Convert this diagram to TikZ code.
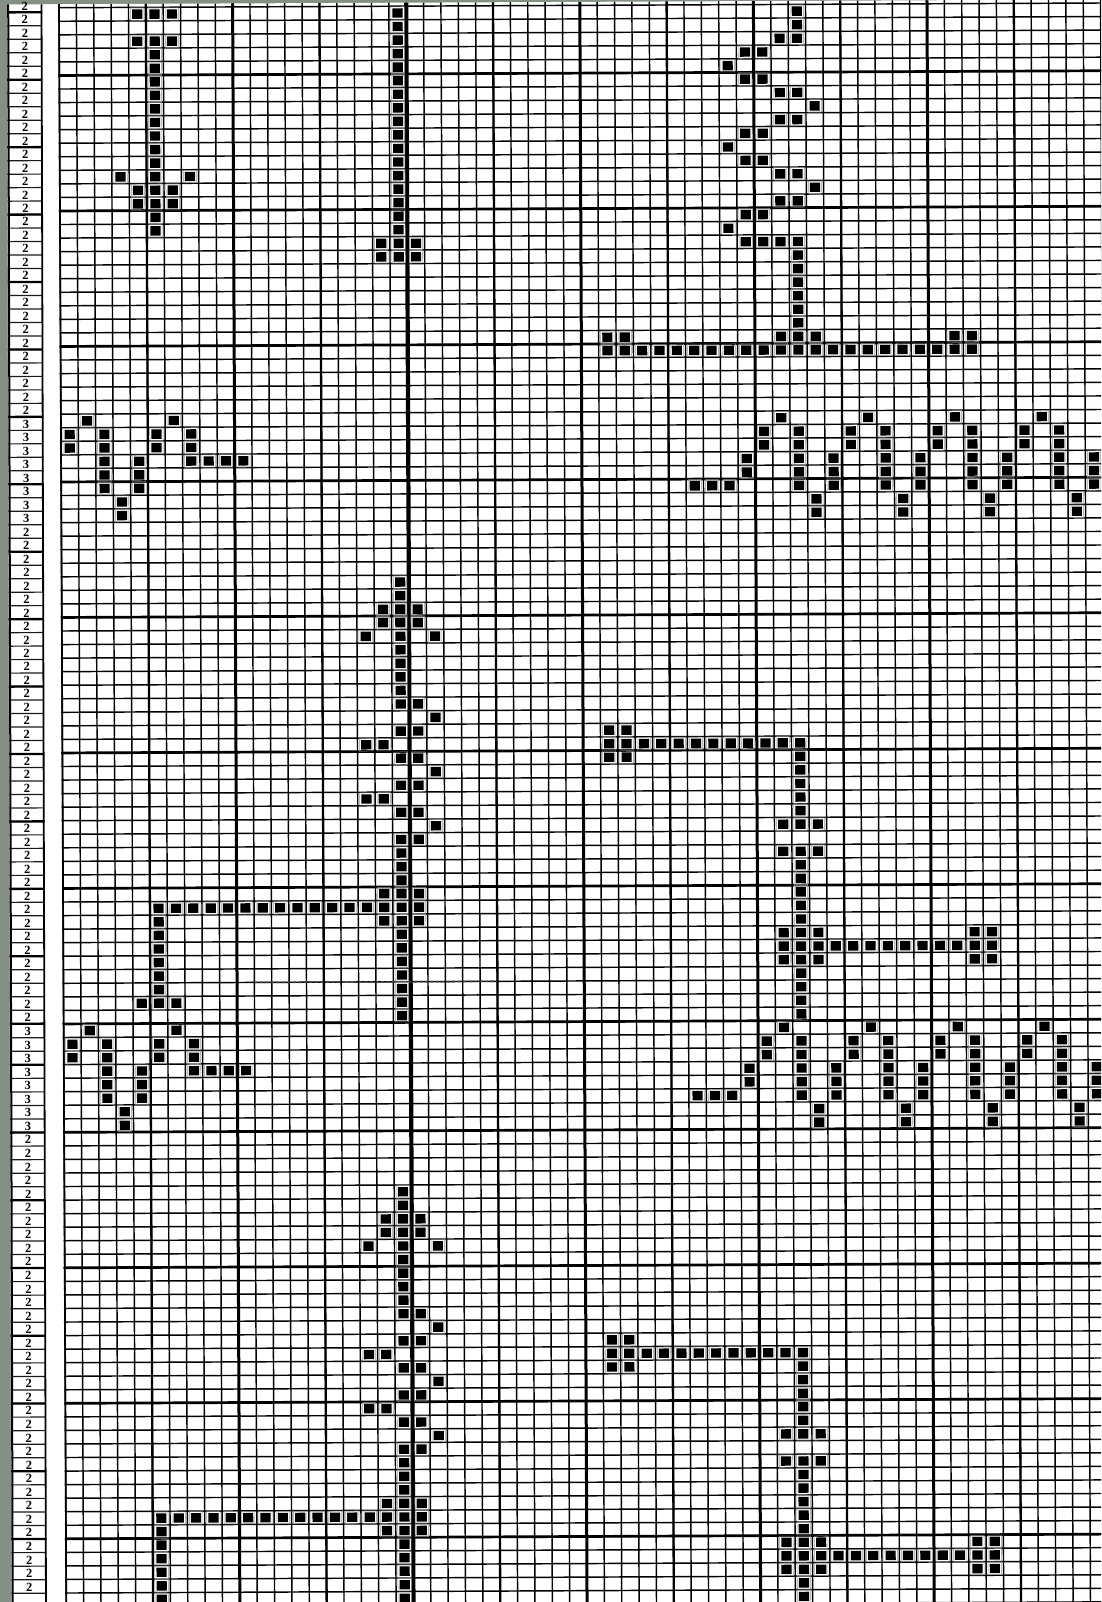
\documentclass[tikz,border=0pt]{standalone}
\usepackage{fontspec}
\setmainfont{Liberation Serif}
\definecolor{scanbg}{RGB}{132,144,132}
\tikzset{
  thinl/.style={line width=1.45pt,black},
  fivel/.style={line width=2.3pt,black},
  tenl/.style={line width=3pt,black},
  midl/.style={line width=4.2pt,black},
  rowl/.style={line width=2.7pt,black},
  labthin/.style={line width=1.2pt,black!90},
  labthick/.style={line width=2.3pt,black},
  labtxt/.style={font=\bfseries\fontsize{12.5}{12.5}\selectfont,inner sep=0pt},
}
\newcommand\stitch[2]{%
  \fill[black] ({59+17.36*(#1+0.5)-5.1},{8+13.55*(#2+0.5)-4.7}) rectangle ++(10.2,9.4);%
  \draw[black!40,line width=0.5pt] ({59+17.36*(#1+0.5)-6.7},{8+13.55*(#2+0.5)-6.2}) rectangle ++(13.4,12.4);}
\newcommand\zzleft[1]{%
  \foreach \c in {1,6} {\stitch{\c}{#1}}%
  \foreach \c in {0,2,5,7} {\stitch{\c}{#1+1}\stitch{\c}{#1+2}}%
  \foreach \c in {2,4,7,8,9,10} {\stitch{\c}{#1+3}}%
  \foreach \c in {2,4} {\stitch{\c}{#1+4}\stitch{\c}{#1+5}}%
  \stitch{3}{#1+6}\stitch{3}{#1+7}}
\newcommand\zzright[1]{%
  \foreach \c in {41,46,51,56} {\stitch{\c}{#1}}%
  \foreach \c in {40,42,45,47,50,52,55,57} {\stitch{\c}{#1+1}\stitch{\c}{#1+2}}%
  \foreach \c in {42,44,47,49,52,54,57,59} {\stitch{\c}{#1+3}\stitch{\c}{#1+4}\stitch{\c}{#1+5}}%
  \stitch{39}{#1+3}\stitch{39}{#1+4}%
  \foreach \c in {36,37,38} {\stitch{\c}{#1+5}}%
  \foreach \c in {43,48,53,58} {\stitch{\c}{#1+6}\stitch{\c}{#1+7}}}
\newcommand\arrowmotif[1]{%
  \stitch{19}{#1}\stitch{19}{#1+1}%
  \foreach \c in {18,19,20} {\stitch{\c}{#1+2}\stitch{\c}{#1+3}}%
  \foreach \c in {17,19,21} {\stitch{\c}{#1+4}}%
  \foreach \k in {5,...,8} {\stitch{19}{#1+\k}}%
  \foreach \k in {9,11,13,15,17,19} {\stitch{19}{#1+\k}\stitch{20}{#1+\k}}%
  \foreach \k in {10,14,18} {\stitch{21}{#1+\k}}%
  \foreach \k in {12,16} {\stitch{17}{#1+\k}\stitch{18}{#1+\k}}%
  \foreach \k in {20,21,22} {\stitch{19}{#1+\k}}%
  \foreach \c in {18,19,20} {\stitch{\c}{#1+23}}%
  \foreach \c in {5,...,20} {\stitch{\c}{#1+24}}%
  \foreach \c in {5,18,19,20} {\stitch{\c}{#1+25}}%
  \foreach \k in {26,...,30} {\stitch{5}{#1+\k}}%
  \foreach \c in {4,5,6} {\stitch{\c}{#1+31}}%
  \foreach \k in {26,...,32} {\stitch{19}{#1+\k}}}
\newcommand\fmotif[1]{%
  \foreach \c in {31,32} {\stitch{\c}{#1}\stitch{\c}{#1+2}}%
  \foreach \c in {31,...,42} {\stitch{\c}{#1+1}}%
  \foreach \k in {2,...,6} {\stitch{42}{#1+\k}}%
  \foreach \c in {41,42,43} {\stitch{\c}{#1+7}\stitch{\c}{#1+9}\stitch{\c}{#1+15}\stitch{\c}{#1+17}}%
  \foreach \k in {10,...,14} {\stitch{42}{#1+\k}}%
  \foreach \c in {41,...,53} {\stitch{\c}{#1+16}}%
  \foreach \c in {52,53} {\stitch{\c}{#1+15}\stitch{\c}{#1+17}}%
  \foreach \k in {18,...,21} {\stitch{42}{#1+\k}}}
\begin{document}
\begin{tikzpicture}[x=1pt,y=-1pt]
\useasboundingbox (0,0) rectangle (1101,1602);
\clip (0,0) rectangle (1101,1602);
\fill[scanbg] (0,0) rectangle (1101,1602);
% label strip
\begin{scope}[rotate around={0.16:(0,0)}]
  \fill[white] (7,4.5) rectangle (60,1650);
  \foreach \r in {0,...,75} {\draw[labthin] (7,{12.4+13.485*\r}) -- (42,{12.4+13.485*\r});}
  \foreach \r in {76,...,118} {\draw[labthin] (7,{8+13.55*\r}) -- (42,{8+13.55*\r});}
  \foreach \r in {0,5,...,75} {\draw[labthick] (7,{12.4+13.485*\r}) -- (42,{12.4+13.485*\r});}
  \foreach \r in {78,83,...,118} {\draw[labthick] (7,{8+13.55*\r}) -- (42,{8+13.55*\r});}
  \draw[line width=2pt] (8.2,4.5) -- (8.2,1650);
  \draw[line width=1.8pt] (41.5,4.5) -- (41.5,1650);
  \foreach \r in {-1,...,29} {\node[labtxt,name=La\r] at (24.8,{12.4+13.485*(\r+0.5)+0.5}) {2};}
  \foreach \r in {30,...,37} {\node[labtxt,name=Lb\r] at (24.8,{12.4+13.485*(\r+0.5)+0.5}) {3};}
  \foreach \r in {38,...,74} {\node[labtxt,name=Lc\r] at (24.8,{12.4+13.485*(\r+0.5)+0.5}) {2};}
  \foreach \r in {75,...,82} {\node[labtxt,name=Ld\r] at (24.8,{8+13.55*(\r+0.5)+0.5}) {3};}
  \foreach \r in {83,...,116} {\node[labtxt,name=Le\r] at (24.8,{8+13.55*(\r+0.5)+0.5}) {2};}
\end{scope}
% chart
\begin{scope}[rotate around={0.26:(0,0)}]
  \fill[white] (44,4.5) rectangle (1130,1650);
  \begin{scope}
    \clip (58,4.5) rectangle (1130,1650);
    \foreach \k in {0,...,60} {\draw[thinl] ({59+17.36*\k},0) -- ++(0,1650);}
    \foreach \r in {0,...,118} {\draw[thinl] (55,{8+13.55*\r}) -- ++(1080,0);}
    \foreach \r in {5,15,...,75} {\draw[rowl] (55,{8+13.55*\r}) -- ++(1080,0);}
    \foreach \r in {83,93,103,113} {\draw[rowl] (55,{8+13.55*\r}) -- ++(1080,0);}
    \foreach \k in {5,15,25,35,45,55} {\draw[fivel] ({59+17.36*\k},0) -- ++(0,1650);}
    \foreach \k in {10,30,40,50} {\draw[tenl] ({59+17.36*\k},0) -- ++(0,1650);}
    \draw[midl] ({59+17.36*20},0) -- ++(0,1650);
    \draw[line width=1.7pt] (59,0) -- ++(0,1650);
    \draw[line width=1.6pt,black!75,dash pattern=on 3pt off 2.5pt] ({59+17.36*11},{8+13.55*72}) -- ({59+17.36*25},{8+13.55*72});
  \end{scope}
  % motif A (top left)
  \foreach \c in {4,5,6} {\stitch{\c}{0}\stitch{\c}{2}\stitch{\c}{13}\stitch{\c}{14}}
  \foreach \r in {3,...,11} {\stitch{5}{\r}}
  \stitch{5}{15}\stitch{5}{16}
  \foreach \c in {3,5,7} {\stitch{\c}{12}}
  % motif B (top centre)
  \foreach \r in {0,...,18} {\stitch{19}{\r}}
  \foreach \c in {18,20} {\stitch{\c}{17}\stitch{\c}{18}}
  % motif C (top right)
  \foreach \c/\r in {42/0,42/1,41/2,42/2,39/3,40/3,38/4,39/5,40/5,41/6,42/6,43/7,41/8,42/8,
      39/9,40/9,38/10,39/11,40/11,41/12,42/12,43/13,41/14,42/14,39/15,40/15,38/16,
      39/17,40/17,41/17,42/17} {\stitch{\c}{\r}}
  \foreach \r in {18,...,23} {\stitch{42}{\r}}
  \foreach \c in {31,32,41,42,43,51,52} {\stitch{\c}{24}}
  \foreach \c in {31,...,52} {\stitch{\c}{25}}
  % zigzags
  \zzleft{30}\zzright{30}
  \zzleft{75}\zzright{75}
  % repeated motifs
  \arrowmotif{42}\arrowmotif{87}
  \fmotif{53}\fmotif{98}
\end{scope}
\end{tikzpicture}
\end{document}
